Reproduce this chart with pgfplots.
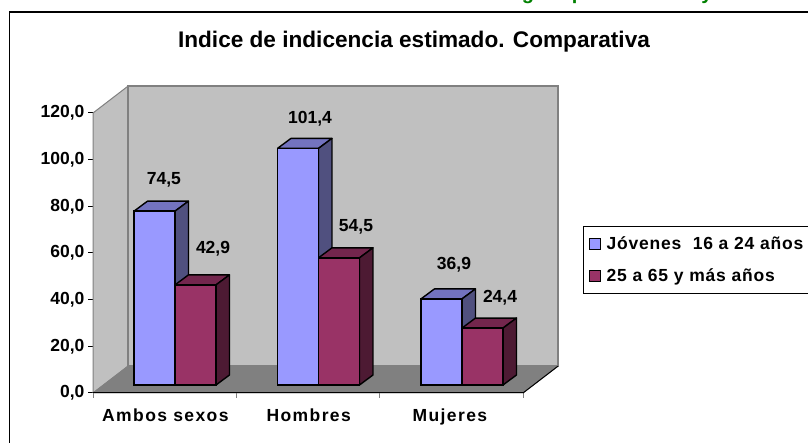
\documentclass[border=0pt]{standalone}
\usepackage{fontspec}
\setmainfont{Liberation Sans}
\usepackage{pgfplots}
\pgfplotsset{compat=1.18}
\definecolor{serA}{HTML}{9999FF}
\definecolor{serAside}{HTML}{50507F}
\definecolor{serAtop}{HTML}{7373BF}
\definecolor{serB}{HTML}{993366}
\definecolor{serBside}{HTML}{4D1A33}
\definecolor{serBtop}{HTML}{73264D}
\definecolor{wall}{HTML}{C0C0C0}
\definecolor{floorc}{HTML}{808080}
\definecolor{titlegreen}{HTML}{008000}
\pgfplotsset{
  faceA/.style={sharp plot,no marks,forget plot,draw=black,line width=1.4pt,line join=round,fill=#1},
}
\begin{document}
\begin{tikzpicture}[x=1pt,y=1pt]
\path[use as bounding box] (0,0) rectangle (808,443);
% frame of the chart (only top and left are inside the picture)
\draw[black,line width=1.6pt] (9.5,0) -- (9.5,431) -- (808,431);
% clipped green headline above the frame
\begin{scope}
\clip (0,435) rectangle (808,443);
\node[font=\bfseries\fontsize{20}{24}\selectfont,text=titlegreen,anchor=base] at (528,443) {g};
\node[font=\bfseries\fontsize{20}{24}\selectfont,text=titlegreen,anchor=base] at (578,443) {p};
\node[font=\bfseries\fontsize{20}{24}\selectfont,text=titlegreen,anchor=base] at (707,443) {y};
\end{scope}
% walls, floor, axis lines, ticks
\begin{axis}[
  at={(93pt,50pt)},anchor=south west,scale only axis,width=430pt,height=280pt,
  xmin=-0.5,xmax=2.5,ymin=0,ymax=120,clip=false,
  axis x line*=bottom,axis y line*=left,axis line style={-,black,line width=1pt},
  tick align=outside,major tick length=5pt,
  ytick={0,20,40,60,80,100,120},
  xtick={-0.5,0.5,1.5,2.5},xticklabels={},
  x tick style={draw=gray,line width=1pt},y tick style={draw=black,line width=1pt},
  extra x ticks={0.005,1.005,1.99},extra x tick labels={Ambos sexos,Hombres,Mujeres},
  extra x tick style={major tick length=0pt,tick label style={yshift=-12pt,font=\bfseries\fontsize{17.5}{20}\selectfont\addfontfeature{LetterSpace=8}}},
  tick label style={font=\bfseries\fontsize{17.5}{20}\selectfont},
  /pgf/number format/.cd,use comma,fixed,fixed zerofill,precision=1,assume math mode=true,
  /pgfplots/.cd,
  title={Indice de indicencia estimado. Comparativa},
  title style={font=\bfseries\fontsize{22.6}{26}\selectfont,at={(0.7465,1.235)},anchor=center},
]
\addplot[sharp plot,no marks,forget plot,draw=floorc,line width=1pt,fill=wall] coordinates {(-0.5,0)(-0.256,11.5)(-0.256,131.5)(-0.5,120)(-0.5,0)};
\addplot[sharp plot,no marks,forget plot,draw=floorc,line width=1.4pt,fill=wall] coordinates {(-0.256,11.5)(2.744,11.5)(2.744,131.5)(-0.256,131.5)(-0.256,11.5)};
\addplot[sharp plot,no marks,forget plot,draw=floorc,line width=0.8pt,fill=floorc] coordinates {(-0.5,0)(2.5,0)(2.744,11.5)(-0.256,11.5)(-0.5,0)};
\addplot[sharp plot,no marks,forget plot,draw=black,line width=1pt] coordinates {(2.5,0)(2.744,11.5)};
\addplot[sharp plot,no marks,forget plot,draw=black,line width=1pt] coordinates {(-0.5,0)(2.5,0)};
\end{axis}
% the bars
\begin{axis}[
  at={(103.25pt,58pt)},anchor=south west,scale only axis,width=430.5pt,height=280pt,
  xmin=-0.5,xmax=2.5,ymin=0,ymax=120,clip=false,hide axis,
  legend style={at={(479.75pt,159pt)},anchor=north west,legend cell align=left,draw=black,line width=1pt,
    font=\bfseries\fontsize{17.5}{20}\selectfont\addfontfeature{LetterSpace=4.6},inner xsep=5.5pt,inner ysep=8pt,row sep=14pt,
    /tikz/every even column/.append style={column sep=0pt}},
  legend image code/.code={\path[draw=none,fill=none] (0pt,0pt) -- (15pt,0pt);\draw[#1,line width=1.2pt] (0pt,-5.5pt) rectangle (11pt,5.5pt);},
]
\addplot[faceA=serAtop] coordinates {(-0.2857,74.5)(0,74.5)(0.094,78.79)(-0.1917,78.79)(-0.2857,74.5)};
\addplot[faceA=serAside] coordinates {(0,0)(0.094,4.29)(0.094,78.79)(0,74.5)(0,0)};
\addplot[faceA=serAtop] coordinates {(0.7143,101.4)(1,101.4)(1.094,105.69)(0.8083,105.69)(0.7143,101.4)};
\addplot[faceA=serAside] coordinates {(1,0)(1.094,4.29)(1.094,105.69)(1,101.4)(1,0)};
\addplot[faceA=serAtop] coordinates {(1.7143,36.9)(2,36.9)(2.094,41.19)(1.8083,41.19)(1.7143,36.9)};
\addplot[faceA=serAside] coordinates {(2,0)(2.094,4.29)(2.094,41.19)(2,36.9)(2,0)};
\addplot[ybar,bar width=41pt,bar shift=-20.5pt,draw=black,line width=1.4pt,fill=serA] coordinates {(0,74.5)(1,101.4)(2,36.9)};
\addlegendentry{Jóvenes\ \ 16 a 24 años}
\addplot[faceA=serBtop] coordinates {(0,42.9)(0.2857,42.9)(0.3797,47.19)(0.094,47.19)(0,42.9)};
\addplot[faceA=serBside] coordinates {(0.2857,0)(0.3797,4.29)(0.3797,47.19)(0.2857,42.9)(0.2857,0)};
\addplot[faceA=serBtop] coordinates {(1,54.5)(1.2857,54.5)(1.3797,58.79)(1.094,58.79)(1,54.5)};
\addplot[faceA=serBside] coordinates {(1.2857,0)(1.3797,4.29)(1.3797,58.79)(1.2857,54.5)(1.2857,0)};
\addplot[faceA=serBtop] coordinates {(2,24.4)(2.2857,24.4)(2.3797,28.69)(2.094,28.69)(2,24.4)};
\addplot[faceA=serBside] coordinates {(2.2857,0)(2.3797,4.29)(2.3797,28.69)(2.2857,24.4)(2.2857,0)};
\addplot[ybar,bar width=41pt,bar shift=20.5pt,draw=black,line width=1.4pt,fill=serB] coordinates {(0,42.9)(1,54.5)(2,24.4)};
\addlegendentry{25 a 65 y más años}
% data labels
\addplot[only marks,mark=none,forget plot,point meta=explicit symbolic,nodes near coords,
  every node near coord/.style={anchor=center,inner sep=0pt,yshift=-2pt,font=\bfseries\fontsize{17.5}{20}\selectfont}]
  table[meta=label] {
x y label
-0.077 88.7 74,5
0.265 59.1 42,9
0.941 114.9 101,4
1.261 68.6 54,5
1.944 52.3 36,9
2.265 38.1 24,4
};
\end{axis}
\end{tikzpicture}
\end{document}
